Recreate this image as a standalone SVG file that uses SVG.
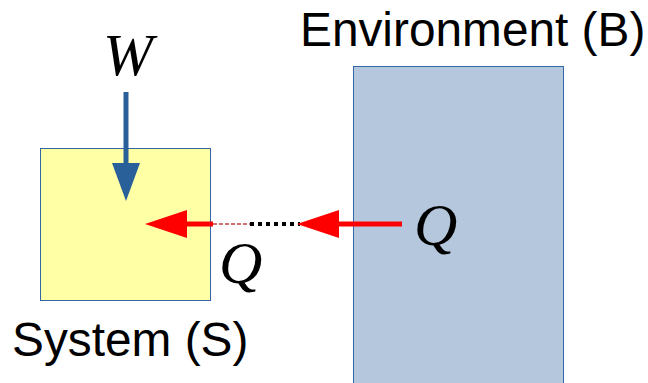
<svg xmlns="http://www.w3.org/2000/svg" width="648" height="383" viewBox="0 0 648 383">
<style>
.lbl{font-family:"Liberation Sans",Arial,sans-serif;font-size:47.8px;fill:#000}
.math{font-family:"Liberation Serif","Times New Roman",serif;font-style:italic;font-size:60px;fill:#000}
</style>
<defs>
<marker id="red" markerUnits="userSpaceOnUse" markerWidth="42" markerHeight="28" refX="0" refY="14" orient="auto">
<path d="M0,0 L42,14 L0,28 Z" fill="#ff0000"/>
</marker>
<marker id="blue" markerUnits="userSpaceOnUse" markerWidth="38" markerHeight="28" refX="0" refY="14" orient="auto">
<path d="M0,0 L38,14 L0,28 Z" fill="#2a6099"/>
</marker>
</defs>
<rect width="648" height="383" fill="#fff"/>
<g id="system">
<rect x="40.5" y="148.5" width="170" height="152" fill="#ffffa6" stroke="#3465a4" stroke-width="1"/>
<text class="lbl" x="12" y="356">System (S)</text>
</g>
<g id="environment">
<rect x="353.5" y="66.5" width="210" height="320" fill="#b4c7dc" stroke="#3465a4" stroke-width="1"/>
<text class="lbl" x="300" y="46">Environment (B)</text>
</g>
<g id="connectors">
<line x1="126" y1="92" x2="126" y2="163" stroke="#2a6099" stroke-width="5" marker-end="url(#blue)"/>
<line x1="213" y1="224" x2="250" y2="224" stroke="#d07070" stroke-width="2" stroke-dasharray="4 2"/>
<line x1="250" y1="224" x2="300" y2="224" stroke="#000" stroke-width="4" stroke-dasharray="4 4"/>
<line x1="337" y1="224" x2="353" y2="224" stroke="#b07070" stroke-width="2" stroke-dasharray="4 2"/>
<line x1="402" y1="224" x2="339" y2="224" stroke="#ff0000" stroke-width="5" marker-end="url(#red)"/>
<line x1="213" y1="224" x2="187" y2="224" stroke="#ff0000" stroke-width="5" marker-end="url(#red)"/>
</g>
<g id="labels">
<text class="math" x="103" y="75">W</text>
<text class="math" x="414" y="245">Q</text>
<text class="math" x="219" y="283">Q</text>
</g>
</svg>
